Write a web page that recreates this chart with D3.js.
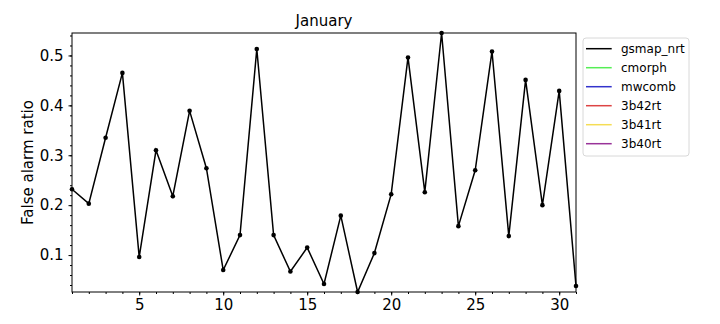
<!DOCTYPE html>
<html>
<head>
<meta charset="utf-8">
<script src="https://cdn.jsdelivr.net/npm/d3@7"></script>
<style>
    body { margin: 0; background: #fff; }
    svg { font-family: 'DejaVu Sans', sans-serif; }
</style>
</head>
<body>
<svg width="720" height="324"></svg>
<script>
// daily false alarm ratio, January
const days = d3.range(1, 32);
const gsmapNrt = [
    0.232, 0.203, 0.335, 0.465, 0.096, 0.310, 0.218, 0.389, 0.274, 0.070,
    0.140, 0.513, 0.140, 0.067, 0.115, 0.042, 0.179, 0.026, 0.104, 0.222,
    0.496, 0.226, 0.545, 0.158, 0.270, 0.508, 0.138, 0.451, 0.200, 0.429,
    0.038
];
const seriesNames = ['gsmap_nrt', 'cmorph', 'mwcomb', '3b42rt', '3b41rt', '3b40rt'];
const seriesColors = ['#000000', '#55ee55', '#3333cc', '#dd4444', '#f5dd55', '#993399'];
const xTicks = [5, 10, 15, 20, 25, 30];
const yTicks = [0.1, 0.2, 0.3, 0.4, 0.5];

const data = days.map((d, i) => ({ day: d, value: gsmapNrt[i] }));

const margin = { left: 72, right: 144, top: 33, bottom: 32 };
const width = 720 - margin.left - margin.right;
const height = 324 - margin.top - margin.bottom;

const svg = d3.select('svg');
const g = svg.append('g').attr('transform', `translate(${margin.left},${margin.top})`);

const xScale = d3.scaleLinear().domain(d3.extent(days)).range([0, width]);
const yScale = d3.scaleLinear().domain(d3.extent(gsmapNrt)).range([height, 0]);

// minor ticks
g.append('g')
    .attr('transform', `translate(0,${height})`)
    .call(d3.axisBottom(xScale).tickValues(days).tickSize(2).tickFormat(''))
    .call((a) => a.select('.domain').remove());
g.append('g')
    .call(d3.axisLeft(yScale).tickValues(d3.range(0.04, 0.545, 0.02)).tickSize(2).tickFormat(''))
    .call((a) => a.select('.domain').remove());

// major ticks
const xAxis = g.append('g')
    .attr('transform', `translate(0,${height})`)
    .call(d3.axisBottom(xScale).tickValues(xTicks).tickSize(3.5).tickPadding(4).tickFormat(d3.format('d')));
const yAxis = g.append('g')
    .call(d3.axisLeft(yScale).tickValues(yTicks).tickSize(3.5).tickPadding(5).tickFormat(d3.format('.1f')));
[xAxis, yAxis].forEach((a) => {
    a.select('.domain').remove();
    a.selectAll('text').attr('font-size', '15px').attr('font-family', 'DejaVu Sans').attr('fill', '#000');
});

const lineGenerator = d3.line()
    .x((d) => xScale(d.day))
    .y((d) => yScale(d.value));

g.append('path')
    .attr('d', lineGenerator(data))
    .attr('fill', 'none')
    .attr('stroke', seriesColors[0])
    .attr('stroke-width', 1.5);

g.selectAll('circle.pt')
    .data(data)
    .join('circle')
    .attr('class', 'pt')
    .attr('cx', (d) => xScale(d.day))
    .attr('cy', (d) => yScale(d.value))
    .attr('r', 2.3)
    .attr('fill', '#000');

// frame
g.append('rect')
    .attr('width', width)
    .attr('height', height)
    .attr('fill', 'none')
    .attr('stroke', '#000')
    .attr('stroke-width', 1);

svg.append('text')
    .attr('x', margin.left + width / 2)
    .attr('y', 26)
    .attr('text-anchor', 'middle')
    .attr('font-size', '15px')
    .text('January');

svg.append('text')
    .attr('transform', `translate(33,${margin.top + height / 2}) rotate(-90)`)
    .attr('text-anchor', 'middle')
    .attr('font-size', '15px')
    .text('False alarm ratio');

// legend
const legend = svg.append('g').attr('transform', 'translate(583,38)');
legend.append('rect')
    .attr('width', 106)
    .attr('height', 118)
    .attr('rx', 3)
    .attr('fill', '#fff')
    .attr('stroke', '#d8d8d8');
const item = legend.selectAll('g.item')
    .data(seriesNames)
    .join('g')
    .attr('class', 'item')
    .attr('transform', (d, i) => `translate(0,${10.7 + i * 19})`);
item.append('line')
    .attr('x1', 3).attr('x2', 28.7)
    .attr('stroke', (d, i) => seriesColors[i])
    .attr('stroke-width', 1.5);
item.append('text')
    .attr('x', 38)
    .attr('dy', '0.35em')
    .attr('font-size', '12px')
    .text((d) => d);
</script>
</body>
</html>
